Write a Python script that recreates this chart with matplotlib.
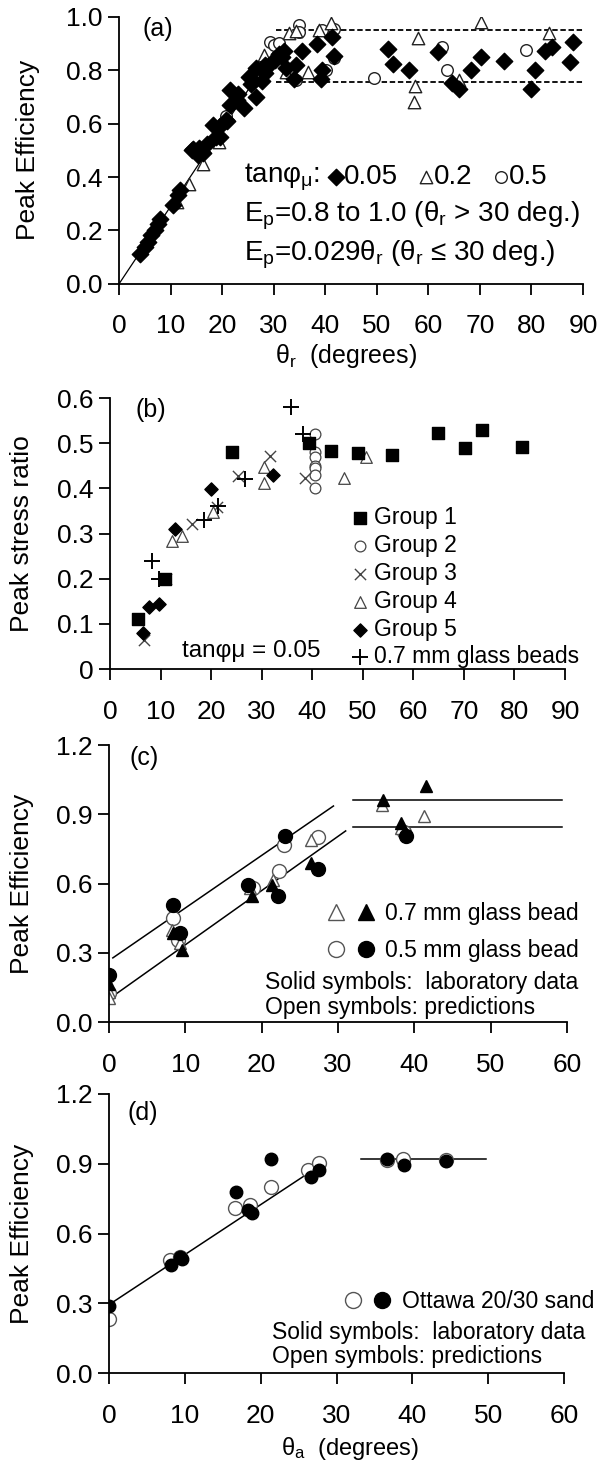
import matplotlib
matplotlib.use("Agg")
import matplotlib.pyplot as plt
from matplotlib.lines import Line2D
from matplotlib.legend_handler import HandlerTuple

plt.rcParams['font.family'] = ['Liberation Sans', 'DejaVu Sans']
plt.rcParams['mathtext.fontset'] = 'custom'
plt.rcParams['mathtext.rm'] = 'Liberation Sans'
plt.rcParams['mathtext.it'] = 'Liberation Sans:italic'
plt.rcParams['mathtext.sf'] = 'Liberation Sans'

# ---- panel (a): peak efficiency vs theta_r ----
a_theta_005 = [4.0, 5.0, 5.6, 6.3, 6.9, 7.6, 7.9, 10.5, 11.5, 11.8, 14.4, 15.3, 16.0, 17.0,
               18.3, 19.5, 20.8, 21.5, 22.8, 21.6, 24.3, 23.0, 25.6, 26.6, 26.6, 27.7, 28.4,
               29.0, 30.3, 31.0, 31.7, 28.4, 25.3, 19.6, 20.9, 18.9, 16.2, 14.2, 15.6,
               32.0, 32.3, 34.4, 35.4, 34.0, 38.4, 39.1, 39.4, 41.4, 41.7, 52.1, 53.2, 56.2,
               61.9, 64.6, 65.9, 68.3, 70.3, 74.6, 80.0, 80.7, 82.7, 84.0, 88.1, 87.4]
a_ep_005 = [0.113, 0.138, 0.157, 0.182, 0.20, 0.225, 0.244, 0.294, 0.331, 0.35, 0.506, 0.481,
            0.494, 0.525, 0.594, 0.55, 0.612, 0.669, 0.687, 0.725, 0.66, 0.71, 0.75, 0.70,
            0.81, 0.76, 0.79, 0.82, 0.84, 0.86, 0.85, 0.82, 0.775, 0.59, 0.61, 0.55, 0.49,
            0.50, 0.51, 0.873, 0.81, 0.82, 0.873, 0.766, 0.898, 0.766, 0.80, 0.923, 0.854,
            0.88, 0.823, 0.80, 0.867, 0.753, 0.728, 0.80, 0.848, 0.835, 0.728, 0.80, 0.873,
            0.886, 0.904, 0.829]
a_theta_02 = [11.2, 13.6, 16.2, 19.3, 28.2, 32.3, 33.0, 34.4, 36.7, 38.7, 41.1, 57.9, 57.5,
              57.2, 65.9, 70.3, 83.4]
a_ep_02 = [0.306, 0.375, 0.45, 0.53, 0.856, 0.795, 0.94, 0.945, 0.795, 0.95, 0.975, 0.92,
           0.74, 0.68, 0.763, 0.98, 0.94]
a_theta_05 = [20.8, 29.3, 30.0, 31.0, 35.0, 35.0, 34.4, 39.4, 40.1, 41.7, 41.7, 49.5, 62.6,
              63.6, 79.0]
a_ep_05 = [0.63, 0.906, 0.894, 0.90, 0.97, 0.944, 0.763, 0.95, 0.80, 0.844, 0.956, 0.769,
           0.888, 0.80, 0.875]
a_fit_x = [0, 30]
a_fit_y = [0, 0.87]
a_band_x = [30.5, 90]
a_band_hi = 0.95
a_band_lo = 0.755

# ---- panel (b): peak stress ratio ----
b_g1_x = [5.6, 10.9, 24.1, 39.4, 43.8, 49.1, 55.7, 64.8, 70.2, 73.6, 81.4]
b_g1_y = [0.11, 0.20, 0.48, 0.50, 0.482, 0.478, 0.474, 0.522, 0.49, 0.53, 0.491]
b_g2_x = [40.5, 40.5, 40.5, 40.5, 40.5, 40.5, 40.5]
b_g2_y = [0.52, 0.48, 0.47, 0.45, 0.445, 0.43, 0.40]
b_g3_x = [6.8, 11.1, 16.2, 21.1, 25.4, 31.6, 38.6]
b_g3_y = [0.065, 0.20, 0.32, 0.358, 0.428, 0.471, 0.424]
b_g4_x = [12.3, 14.2, 20.4, 30.5, 30.5, 46.3, 50.6]
b_g4_y = [0.284, 0.295, 0.347, 0.413, 0.447, 0.424, 0.469]
b_g5_x = [6.6, 7.7, 9.6, 12.9, 20.0, 32.3]
b_g5_y = [0.08, 0.137, 0.143, 0.31, 0.398, 0.43]
b_gb_x = [8.4, 9.6, 18.5, 21.4, 26.8, 35.8, 38.2]
b_gb_y = [0.24, 0.20, 0.33, 0.36, 0.42, 0.58, 0.52]

# ---- panel (c): glass beads ----
c_07_lab_x = [0, 8.4, 9.5, 18.7, 21.3, 26.5, 35.9, 38.3, 41.5]
c_07_lab_y = [0.163, 0.386, 0.314, 0.545, 0.595, 0.69, 0.962, 0.864, 1.023]
c_07_pred_x = [0, 0, 8.2, 9.3, 18.5, 21.5, 26.5, 35.7, 38.3, 41.3]
c_07_pred_y = [0.13, 0.105, 0.40, 0.343, 0.58, 0.617, 0.79, 0.94, 0.84, 0.893]
c_05_lab_x = [0, 8.4, 9.3, 18.2, 22.2, 23.1, 27.4, 38.9]
c_05_lab_y = [0.206, 0.508, 0.386, 0.595, 0.545, 0.807, 0.663, 0.807]
c_05_pred_x = [0, 8.4, 9.1, 18.9, 22.3, 22.9, 27.4, 38.6]
c_05_pred_y = [0.127, 0.451, 0.357, 0.58, 0.653, 0.765, 0.80, 0.825]
c_fit_hi_x = [0.5, 29.4]
c_fit_hi_y = [0.278, 0.936]
c_fit_lo_x = [0, 31.0]
c_fit_lo_y = [0.10, 0.828]
c_flat_x = [32.0, 59.3]
c_flat_hi = 0.962
c_flat_lo = 0.843

# ---- panel (d): Ottawa sand ----
d_lab_x = [0, 8.2, 9.3, 9.6, 16.7, 18.3, 18.8, 21.3, 26.6, 27.7, 36.7, 38.9, 44.4]
d_lab_y = [0.287, 0.463, 0.50, 0.49, 0.778, 0.70, 0.688, 0.922, 0.843, 0.872, 0.922, 0.896, 0.913]
d_pred_x = [0, 8.0, 9.3, 16.6, 18.6, 21.3, 26.3, 27.7, 36.7, 38.8, 44.4]
d_pred_y = [0.232, 0.487, 0.50, 0.71, 0.724, 0.80, 0.875, 0.903, 0.918, 0.922, 0.918]
d_fit_x = [0, 27.8]
d_fit_y = [0.294, 0.892]
d_flat_x = [33.2, 49.7]
d_flat_y = 0.922

TICK = 19
LAB = 19
TXT = 16.5
GRAY = '#555555'

fig = plt.figure(figsize=(6.02, 14.71), dpi=100)
ax_a = fig.add_axes([0.1977, 0.8070, 0.7708, 0.1816])
ax_b = fig.add_axes([0.1827, 0.5452, 0.7558, 0.1842])
ax_c = fig.add_axes([0.1811, 0.3052, 0.7608, 0.1883])
ax_d = fig.add_axes([0.1811, 0.0666, 0.7558, 0.1897])

for ax in (ax_a, ax_b, ax_c, ax_d):
    ax.spines['top'].set_visible(False)
    ax.spines['right'].set_visible(False)
    for s in ('left', 'bottom'):
        ax.spines[s].set_linewidth(1.3)
    ax.tick_params(direction='out', length=8, width=1.3, labelsize=TICK)
    ax.tick_params(axis='x', pad=14)
    ax.tick_params(axis='y', pad=4)

# panel (a)
ax = ax_a
ax.plot(a_fit_x, a_fit_y, color='black', lw=0.9, zorder=1)
ax.plot(a_band_x, [a_band_hi, a_band_hi], color='black', lw=1.3, ls=(0, (3, 1.5)), zorder=1)
ax.plot(a_band_x, [a_band_lo, a_band_lo], color='black', lw=1.3, ls=(0, (3, 1.5)), zorder=1)
h05 = ax.scatter(a_theta_05, a_ep_05, marker='o', s=70, facecolor='white', edgecolor='#222222',
                 linewidth=1.0, zorder=2)
h02 = ax.scatter(a_theta_02, a_ep_02, marker='^', s=80, facecolor='white', edgecolor='#222222',
                 linewidth=1.0, zorder=3)
h005 = ax.scatter(a_theta_005, a_ep_005, marker='D', s=70, color='black', zorder=4)
ax.set_xlim(0, 90)
ax.set_ylim(0, 1.0)
ax.set_xticks(range(0, 91, 10))
ax.set_yticks([0, 0.2, 0.4, 0.6, 0.8, 1.0])
ax.set_yticklabels(['0.0', '0.2', '0.4', '0.6', '0.8', '1.0'])
ax.set_ylabel('Peak Efficiency', fontsize=LAB)
ax.yaxis.set_label_coords(-0.17, 0.5)
ax.set_xlabel(r'θ$_\mathregular{r}$  (degrees)', fontsize=18)
ax.xaxis.set_label_coords(0.49, -0.27)
ax.xaxis.label.set_verticalalignment('center')
ax.text(4.5, 0.955, '(a)', fontsize=18, va='center')
ax.text(24.3, 0.40, r'tanφ$_\mathregular{μ}$:', fontsize=20, va='center')
ax.legend([h005, h02, h05], ['0.05', '0.2', '0.5'], ncol=3, frameon=False, fontsize=20,
          loc='center left', bbox_to_anchor=(0.452, 0.40), handlelength=0.5,
          handletextpad=0.05, columnspacing=0.75, borderpad=0, borderaxespad=0)
ax.text(24.3, 0.255, r'E$_\mathregular{p}$=0.8 to 1.0 (θ$_\mathregular{r}$ > 30 deg.)',
        fontsize=20, va='center')
ax.text(24.3, 0.11, r'E$_\mathregular{p}$=0.029θ$_\mathregular{r}$ (θ$_\mathregular{r}$ ≤ 30 deg.)',
        fontsize=20, va='center')

# panel (b)
ax = ax_b
hg1 = ax.scatter(b_g1_x, b_g1_y, marker='s', s=65, color='black', zorder=3)
hg2 = ax.scatter(b_g2_x, b_g2_y, marker='o', s=60, facecolor='white', edgecolor='#444444',
                 linewidth=0.9, zorder=2)
hg3 = ax.scatter(b_g3_x, b_g3_y, marker='x', s=65, color='#444444', linewidth=1.0, zorder=2)
hg4 = ax.scatter(b_g4_x, b_g4_y, marker='^', s=70, facecolor='white', edgecolor='#444444',
                 linewidth=0.9, zorder=2)
hg5 = ax.scatter(b_g5_x, b_g5_y, marker='D', s=45, color='black', zorder=3)
hgb = ax.scatter(b_gb_x, b_gb_y, marker='+', s=120, color='black', linewidth=1.4, zorder=3)
ax.set_xlim(0, 90)
ax.set_ylim(0, 0.6)
ax.set_xticks(range(0, 91, 10))
ax.set_yticks([0, 0.1, 0.2, 0.3, 0.4, 0.5, 0.6])
ax.set_yticklabels(['0', '0.1', '0.2', '0.3', '0.4', '0.5', '0.6'])
ax.set_ylabel('Peak stress ratio', fontsize=LAB)
ax.yaxis.set_label_coords(-0.167, 0.5)
ax.text(5.0, 0.573, '(b)', fontsize=18, va='center')
ax.text(14.2, 0.04, 'tanφμ = 0.05', fontsize=17.5, va='center')
ax.legend([hg1, hg2, hg3, hg4, hg5, hgb],
          ['Group 1', 'Group 2', 'Group 3', 'Group 4', 'Group 5', '0.7 mm glass beads'],
          frameon=False, fontsize=TXT, loc='upper left', bbox_to_anchor=(0.535, 0.60),
          handlelength=0.6, handletextpad=0.3, labelspacing=0.21, borderpad=0,
          borderaxespad=0)

# panel (c)
ax = ax_c
ax.plot(c_fit_hi_x, c_fit_hi_y, color='black', lw=1.1, zorder=1)
ax.plot(c_fit_lo_x, c_fit_lo_y, color='black', lw=1.1, zorder=1)
ax.plot(c_flat_x, [c_flat_hi, c_flat_hi], color='black', lw=1.1, zorder=1)
ax.plot(c_flat_x, [c_flat_lo, c_flat_lo], color='black', lw=1.1, zorder=1)
ax.plot(c_05_pred_x, c_05_pred_y, ls='none', marker='o', ms=10, mfc='white', mec=GRAY,
        mew=1.0, zorder=2)
ax.plot(c_07_pred_x, c_07_pred_y, ls='none', marker='^', ms=9, mfc='white', mec=GRAY,
        mew=1.0, zorder=2)
ax.plot(c_05_lab_x, c_05_lab_y, ls='none', marker='o', ms=10, color='black', zorder=3)
ax.plot(c_07_lab_x, c_07_lab_y, ls='none', marker='^', ms=9, color='black', zorder=3)
ax.set_xlim(0, 60)
ax.set_ylim(0, 1.2)
ax.set_xticks(range(0, 61, 10))
ax.set_yticks([0, 0.3, 0.6, 0.9, 1.2])
ax.set_yticklabels(['0.0', '0.3', '0.6', '0.9', '1.2'])
ax.set_ylabel('Peak Efficiency', fontsize=LAB)
ax.yaxis.set_label_coords(-0.164, 0.5)
ax.text(2.7, 1.142, '(c)', fontsize=18, va='center')
tri_o = Line2D([], [], ls='none', marker='^', ms=11, mfc='white', mec=GRAY, mew=1.0)
tri_f = Line2D([], [], ls='none', marker='^', ms=11, color='black')
cir_o = Line2D([], [], ls='none', marker='o', ms=11.5, mfc='white', mec=GRAY, mew=1.0)
cir_f = Line2D([], [], ls='none', marker='o', ms=11.5, color='black')
ax.legend([(tri_o, tri_f), (cir_o, cir_f)], ['0.7 mm glass bead', '0.5 mm glass bead'],
          handler_map={tuple: HandlerTuple(ndivide=None, pad=0.5)},
          frameon=False, fontsize=TXT, loc='center left', bbox_to_anchor=(0.475, 0.325),
          handlelength=2.1, handletextpad=0.45, labelspacing=0.6, borderpad=0, borderaxespad=0)
ax.text(20.4, 0.17, 'Solid symbols:  laboratory data', fontsize=TXT, va='center')
ax.text(20.4, 0.062, 'Open symbols: predictions', fontsize=TXT, va='center')

# panel (d)
ax = ax_d
ax.plot(d_fit_x, d_fit_y, color='black', lw=1.1, zorder=1)
ax.plot(d_flat_x, [d_flat_y, d_flat_y], color='black', lw=1.1, zorder=1)
ax.plot(d_pred_x, d_pred_y, ls='none', marker='o', ms=10, mfc='white', mec=GRAY,
        mew=1.0, zorder=2)
ax.plot(d_lab_x, d_lab_y, ls='none', marker='o', ms=9, color='black', zorder=3)
ax.set_xlim(0, 60)
ax.set_ylim(0, 1.2)
ax.set_xticks(range(0, 61, 10))
ax.set_yticks([0, 0.3, 0.6, 0.9, 1.2])
ax.set_yticklabels(['0.0', '0.3', '0.6', '0.9', '1.2'])
ax.set_ylabel('Peak Efficiency', fontsize=LAB)
ax.yaxis.set_label_coords(-0.164, 0.5)
ax.set_xlabel(r'θ$_\mathregular{a}$  (degrees)', fontsize=17)
ax.xaxis.set_label_coords(0.53, -0.27)
ax.xaxis.label.set_verticalalignment('center')
ax.text(2.5, 1.118, '(d)', fontsize=18, va='center')
ax.legend([(cir_o, cir_f)], ['Ottawa 20/30 sand'],
          handler_map={tuple: HandlerTuple(ndivide=None, pad=0.4)},
          frameon=False, fontsize=TXT, loc='center left', bbox_to_anchor=(0.515, 0.258),
          handlelength=2.1, handletextpad=0.45, borderpad=0, borderaxespad=0)
ax.text(21.5, 0.175, 'Solid symbols:  laboratory data', fontsize=TXT, va='center')
ax.text(21.5, 0.07, 'Open symbols: predictions', fontsize=TXT, va='center')

fig.savefig('out.png', dpi=100)
